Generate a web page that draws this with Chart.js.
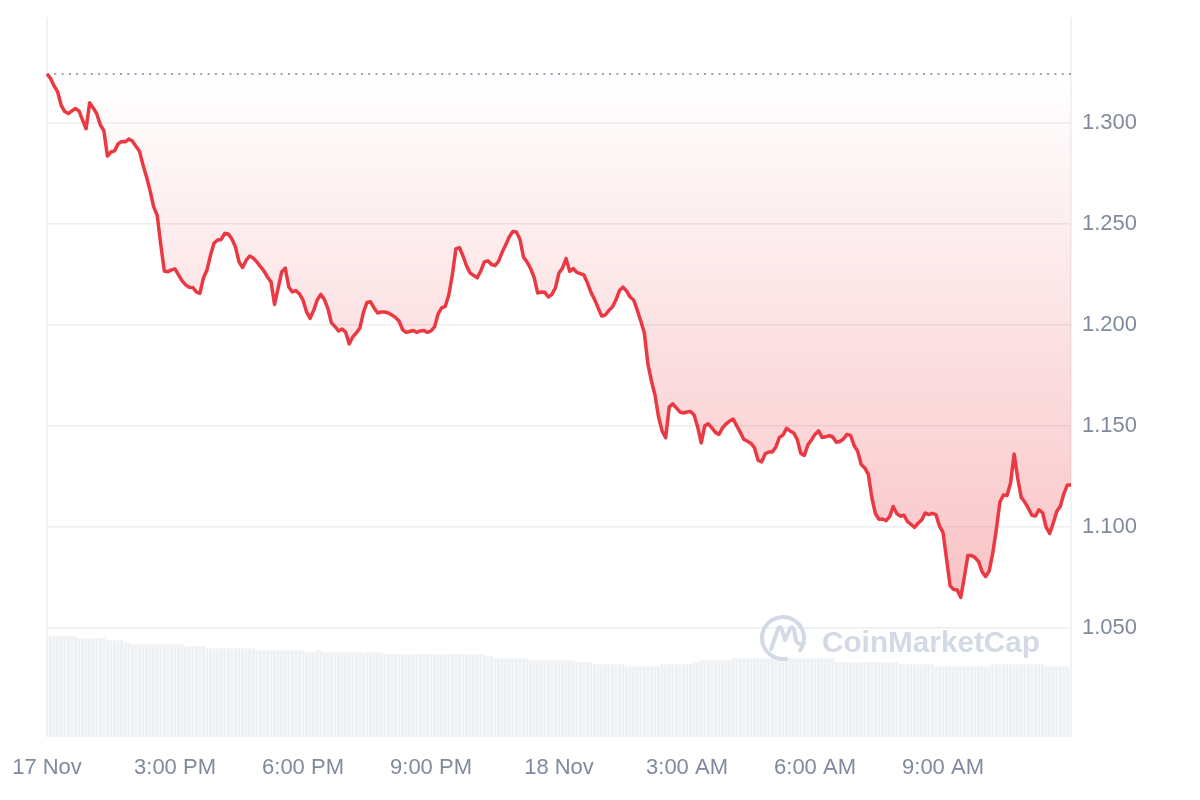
<!DOCTYPE html>
<html>
<head>
<meta charset="utf-8">
<script src="https://cdn.jsdelivr.net/npm/chart.js@4.4.1/dist/chart.umd.min.js"></script>
<style>
  html, body { margin: 0; padding: 0; background: #fff; }
  #wrap { width: 1200px; height: 800px; }
</style>
</head>
<body>
<div id="wrap"><canvas id="priceChart"></canvas></div>
<script>
// price every 5 minutes, 17 Nov 12:00 -> 18 Nov 12:00
const openPrice = 1.3241;

const prices = [
  1.3241, 1.3219, 1.3182, 1.3152, 1.3086, 1.3055, 1.3045, 1.3058, 1.3070, 1.3058,
  1.3013, 1.2970, 1.3098, 1.3073, 1.3043, 1.2989, 1.2960, 1.2835, 1.2855, 1.2860,
  1.2895, 1.2907, 1.2905, 1.2919, 1.2909, 1.2883, 1.2860, 1.2790, 1.2731, 1.2662,
  1.2583, 1.2541, 1.2395, 1.2266, 1.2262, 1.2271, 1.2276, 1.2246, 1.2217, 1.2197,
  1.2185, 1.2184, 1.2162, 1.2155, 1.2231, 1.2271, 1.2345, 1.2404, 1.2419, 1.2422,
  1.2452, 1.2449, 1.2424, 1.2385, 1.2311, 1.2283, 1.2318, 1.2340, 1.2330, 1.2311,
  1.2288, 1.2266, 1.2236, 1.2212, 1.2100, 1.2180, 1.2261, 1.2280, 1.2187, 1.2162,
  1.2169, 1.2152, 1.2122, 1.2063, 1.2031, 1.2071, 1.2122, 1.2150, 1.2125, 1.2080,
  1.2009, 1.1991, 1.1969, 1.1979, 1.1962, 1.1905, 1.1939, 1.1959, 1.1984, 1.2061,
  1.2110, 1.2113, 1.2083, 1.2058, 1.2063, 1.2063, 1.2058, 1.2048, 1.2036, 1.2018,
  1.1976, 1.1962, 1.1966, 1.1971, 1.1962, 1.1969, 1.1971, 1.1962, 1.1969, 1.1989,
  1.2053, 1.2083, 1.2090, 1.2147, 1.2246, 1.2375, 1.2382, 1.2340, 1.2291, 1.2256,
  1.2244, 1.2232, 1.2266, 1.2311, 1.2316, 1.2298, 1.2293, 1.2313, 1.2358, 1.2395,
  1.2434, 1.2461, 1.2459, 1.2424, 1.2335, 1.2311, 1.2278, 1.2234, 1.2157, 1.2162,
  1.2160, 1.2137, 1.2150, 1.2182, 1.2256, 1.2281, 1.2327, 1.2264, 1.2278, 1.2259,
  1.2253, 1.2246, 1.2207, 1.2160, 1.2125, 1.2083, 1.2043, 1.2048, 1.2070, 1.2087,
  1.2122, 1.2169, 1.2186, 1.2167, 1.2137, 1.2122, 1.2073, 1.2018, 1.1959, 1.1806,
  1.1721, 1.1652, 1.1543, 1.1474, 1.1440, 1.1593, 1.1608, 1.1588, 1.1568, 1.1563,
  1.1568, 1.1570, 1.1553, 1.1494, 1.1415, 1.1499, 1.1509, 1.1489, 1.1467, 1.1457,
  1.1489, 1.1509, 1.1523, 1.1533, 1.1499, 1.1467, 1.1432, 1.1423, 1.1412, 1.1390,
  1.1329, 1.1321, 1.1361, 1.1370, 1.1370, 1.1395, 1.1442, 1.1454, 1.1487, 1.1474,
  1.1464, 1.1432, 1.1363, 1.1353, 1.1405, 1.1429, 1.1457, 1.1474, 1.1442, 1.1445,
  1.1451, 1.1444, 1.1418, 1.1422, 1.1434, 1.1457, 1.1452, 1.1402, 1.1373, 1.1308,
  1.1291, 1.1259, 1.1142, 1.1065, 1.1037, 1.1038, 1.1030, 1.1050, 1.1100, 1.1065,
  1.1052, 1.1057, 1.1026, 1.1011, 1.0997, 1.1017, 1.1033, 1.1068, 1.1060, 1.1066,
  1.1060, 1.1004, 1.0972, 1.0840, 1.0707, 1.0689, 1.0687, 1.0650, 1.0751, 1.0858,
  1.0857, 1.0847, 1.0828, 1.0777, 1.0753, 1.0781, 1.0870, 1.0986, 1.1122, 1.1157,
  1.1154, 1.1216, 1.1360, 1.1241, 1.1145, 1.1122, 1.1091, 1.1057, 1.1053, 1.1084,
  1.1069, 1.0998, 1.0967, 1.1017, 1.1076, 1.1101, 1.1164, 1.1207, 1.1207
];

// 24h volume (M)
const volumes = [
  101, 101, 101, 101, 101, 101, 101, 101, 101, 98.7,
  98.7, 98.7, 98.7, 98.7, 98.7, 98.7, 98.7, 96.7, 96.7, 96.7,
  96.7, 96.7, 94.7, 94.7, 92.7, 92.7, 92.7, 92.7, 92.7, 92.7,
  92.7, 92.7, 92.7, 92.7, 92.7, 92.7, 92.7, 92.7, 92.7, 90.7,
  90.7, 90.7, 90.7, 90.7, 90.7, 88.7, 88.7, 88.7, 88.7, 88.7,
  88.7, 88.7, 88.7, 88.7, 88.7, 88.7, 88.7, 88.7, 88.7, 86.7,
  86.7, 86.7, 86.7, 86.7, 86.7, 86.7, 86.7, 86.7, 86.7, 86.7,
  86.7, 86.7, 86.7, 84.7, 84.7, 84.7, 86.7, 86.7, 84.7, 84.7,
  84.7, 84.7, 84.7, 84.7, 84.7, 84.7, 84.7, 84.7, 84.7, 83.7,
  84.7, 84.7, 84.7, 84.7, 84.7, 82.7, 82.7, 82.7, 82.7, 82.7,
  82.7, 82.7, 82.7, 82.7, 82.7, 82.7, 82.7, 82.7, 82.7, 82.7,
  82.7, 82.7, 82.7, 82.7, 82.7, 82.7, 82.7, 82.7, 82.7, 82.7,
  82.7, 82.7, 82.7, 82.7, 81, 81, 78.7, 78.7, 78.7, 78.7,
  78.7, 78.7, 78.7, 78.7, 78.7, 78.7, 76.7, 76.7, 76.7, 76.7,
  76.7, 76.7, 76.7, 76.7, 76.7, 76.7, 76.7, 76.7, 76.7, 74.7,
  74.7, 74.7, 74.7, 74.7, 72.7, 72.7, 72.7, 72.7, 72.7, 72.7,
  72.7, 72.7, 72.7, 70.7, 70.7, 70.7, 70.7, 70.7, 70.7, 70.7,
  70.7, 70.7, 70.7, 72.7, 72.7, 72.7, 72.7, 72.7, 72.7, 72.7,
  72.7, 72.7, 74.7, 74.7, 76.7, 76.7, 76.7, 76.7, 76.7, 76.7,
  76.7, 76.7, 76.7, 78.7, 78.7, 78.7, 78.7, 78.7, 78.7, 78.7,
  78.7, 78.7, 78.7, 78.7, 78.7, 78.7, 78.7, 78.7, 78.7, 78.7,
  78.7, 78.7, 78.7, 78.7, 78.7, 78.7, 78.7, 78.7, 78.7, 78.7,
  78.7, 78.7, 74.7, 74.7, 74.7, 74.7, 74.7, 74.7, 74.7, 74.7,
  74.7, 74.7, 74.7, 74.7, 74.7, 74.7, 74.7, 74.7, 74.7, 74.7,
  72.7, 72.7, 72.7, 72.7, 72.7, 72.7, 72.7, 72.7, 72.7, 72.7,
  70.7, 70.7, 70.7, 70.7, 70.7, 70.7, 70.7, 70.7, 70.7, 70.7,
  70.7, 70.7, 70.7, 70.7, 70.7, 70.7, 72.7, 72.7, 72.7, 72.7,
  72.7, 72.7, 72.7, 72.7, 72.7, 72.7, 72.7, 72.7, 72.7, 72.7,
  72.7, 70.7, 70.7, 70.7, 70.7, 70.7, 70.7, 70.7, 70.7
];

const tickLabels = ['17 Nov', '3:00 PM', '6:00 PM', '9:00 PM', '18 Nov', '3:00 AM', '6:00 AM', '9:00 AM'];
const tickEvery = 36; // 3 hours of 5 minute steps

const labels = prices.map((_, i) => {
  const mins = 12 * 60 + i * 5;
  const h = Math.floor(mins / 60) % 24;
  const m = mins % 60;
  return String(h).padStart(2, '0') + ':' + String(m).padStart(2, '0');
});

const red = '#ea3943';
const textColor = '#808a9d';
const gridColor = '#eceef1';
const font = { family: "'Liberation Sans', Arial, sans-serif", size: 22 };

// left / right border of the plot
const frame = {
  id: 'frame',
  beforeDatasetsDraw(chart) {
    const { ctx, chartArea: a } = chart;
    ctx.save();
    ctx.strokeStyle = gridColor;
    ctx.lineWidth = 1.5;
    ctx.beginPath();
    ctx.moveTo(a.left, a.top);
    ctx.lineTo(a.left, a.bottom);
    ctx.moveTo(a.right, a.top);
    ctx.lineTo(a.right, a.bottom);
    ctx.stroke();
    ctx.restore();
  }
};

const watermark = {
  id: 'watermark',
  afterDatasetsDraw(chart) {
    const { ctx, chartArea: a } = chart;
    const cx = a.right - 288, cy = a.bottom - 99, r = 21;
    ctx.save();
    ctx.strokeStyle = '#d3d9e5';
    ctx.fillStyle = '#d3d9e5';
    ctx.lineWidth = 4;
    ctx.lineCap = 'round';
    ctx.lineJoin = 'round';
    ctx.beginPath();
    ctx.arc(cx, cy, r, 0.45 * Math.PI, 0.2 * Math.PI);
    ctx.stroke();
    ctx.beginPath();
    ctx.moveTo(cx - 12, cy + 11);
    ctx.lineTo(cx - 5, cy - 9);
    ctx.quadraticCurveTo(cx - 3, cy - 13, cx - 1, cy - 8);
    ctx.lineTo(cx + 2, cy + 2);
    ctx.lineTo(cx + 7, cy - 9);
    ctx.quadraticCurveTo(cx + 9, cy - 13, cx + 11, cy - 8);
    ctx.lineTo(cx + 13, cy + 2);
    ctx.quadraticCurveTo(cx + 15, cy + 8, cx + 21, cy + 5);
    ctx.stroke();
    ctx.font = "bold 29px 'Liberation Sans', Arial, sans-serif";
    ctx.textBaseline = 'alphabetic';
    const text = 'CoinMarketCap';
    const w = ctx.measureText(text).width;
    ctx.translate(a.right - 249, a.bottom - 85);
    ctx.scale(218 / w, 1);
    ctx.fillText(text, 0, 0);
    ctx.restore();
  }
};

new Chart(document.getElementById('priceChart'), {
  data: {
    labels: labels,
    datasets: [
      {
        type: 'line',
        label: 'Price',
        data: prices,
        yAxisID: 'y',
        borderColor: red,
        borderWidth: 3.5,
        borderJoinStyle: 'round',
        pointRadius: 0,
        tension: 0,
        fill: { value: openPrice },
        backgroundColor: (context) => {
          const chart = context.chart;
          const { chartArea, scales } = chart;
          if (!chartArea) return 'rgba(234, 57, 67, 0.1)';
          const top = scales.y.getPixelForValue(openPrice);
          const bottom = scales.y.getPixelForValue(Math.min(...prices));
          const g = chart.ctx.createLinearGradient(0, top, 0, bottom);
          g.addColorStop(0, 'rgba(234, 57, 67, 0)');
          g.addColorStop(1, 'rgba(234, 57, 67, 0.3)');
          return g;
        },
        order: 0
      },
      {
        type: 'line',
        label: 'Open',
        data: prices.map(() => openPrice),
        yAxisID: 'y',
        borderColor: '#9aa3b5',
        borderWidth: 2,
        borderDash: [2, 5.3],
        pointRadius: 0,
        fill: false,
        order: 1
      },
      {
        type: 'bar',
        label: 'Volume',
        data: volumes,
        yAxisID: 'yVol',
        backgroundColor: '#eef1f4',
        barPercentage: 0.85,
        categoryPercentage: 1,
        order: 2
      }
    ]
  },
  options: {
    responsive: true,
    maintainAspectRatio: false,
    animation: false,
    layout: { padding: { left: 47, top: 17, right: 0, bottom: 0 } },
    plugins: {
      legend: { display: false },
      tooltip: { enabled: false }
    },
    scales: {
      x: {
        offset: false,
        grid: { display: false, drawTicks: true, tickLength: 18 },
        border: { display: false },
        ticks: {
          autoSkip: false,
          maxRotation: 0,
          padding: 0,
          color: textColor,
          font: font,
          callback: (value, index) => index % tickEvery === 0 ? tickLabels[index / tickEvery] : null
        },
        afterFit: (scale) => { scale.height = 63; }
      },
      y: {
        position: 'right',
        min: 0.9959,
        max: 1.3523,
        grid: { color: gridColor, lineWidth: 1.5, drawTicks: true, tickLength: 11, tickColor: 'rgba(0,0,0,0)' },
        border: { display: false },
        ticks: {
          stepSize: 0.05,
          includeBounds: false,
          padding: 0,
          color: textColor,
          font: font,
          callback: (v) => v.toFixed(3)
        },
        afterBuildTicks: (scale) => {
          scale.ticks = scale.ticks.filter(t => t.value > 1.04 && t.value < 1.31);
        },
        afterFit: (scale) => { scale.width = 129; }
      },
      yVol: {
        display: false,
        min: 0,
        max: Math.max(...volumes) * 7.13
      }
    }
  },
  plugins: [frame, watermark]
});
</script>
</body>
</html>
